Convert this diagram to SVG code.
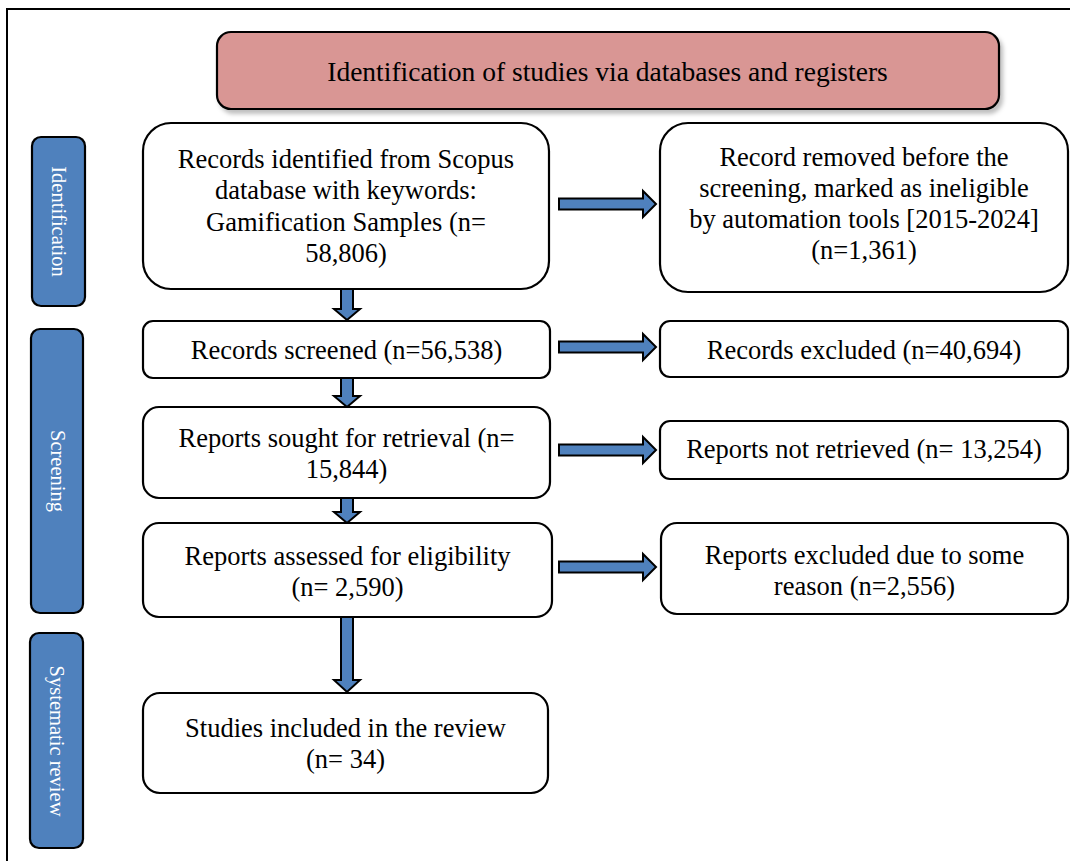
<svg xmlns="http://www.w3.org/2000/svg" width="1070" height="861" viewBox="0 0 1070 861">
<style>
.box{fill:#ffffff;stroke:#000000;stroke-width:2.2}
.side{fill:#4f81bd;stroke:#000000;stroke-width:2.2}
.arr{fill:#4f81bd;stroke:#000000;stroke-width:2;stroke-linejoin:miter}
.t{font-family:"Liberation Serif","Times New Roman",serif;font-size:26.5px;fill:#000000;text-anchor:middle}
.h{font-family:"Liberation Serif","Times New Roman",serif;font-size:27.5px;fill:#000000;text-anchor:middle}
.s{font-family:"Liberation Serif","Times New Roman",serif;font-size:20.5px;fill:#ffffff;text-anchor:middle}
</style>
<defs>
<filter id="sh" x="-5%" y="-20%" width="115%" height="150%">
<feDropShadow dx="3" dy="4" stdDeviation="2" flood-color="#000000" flood-opacity="0.25"/>
</filter>
</defs>
<rect x="0" y="0" width="1070" height="861" fill="#ffffff"/>
<rect x="7" y="9" width="1090" height="880" fill="none" stroke="#000000" stroke-width="2"/>

<g id="header">
<rect x="217" y="32" width="782" height="77" rx="14" ry="14" fill="#d99694" stroke="#000000" stroke-width="2.2" filter="url(#sh)"/>
<text class="h" x="607.5" y="81">Identification of studies via databases and registers</text>
</g>

<g id="label-identification">
<rect class="side" x="32" y="137" width="53" height="169" rx="9" ry="9"/>
<text class="s" transform="translate(58.5,221.5) rotate(90)" y="7">Identification</text>
</g>
<g id="label-screening">
<rect class="side" x="31" y="329" width="52" height="284" rx="9" ry="9"/>
<text class="s" transform="translate(57.5,471) rotate(90)" y="7">Screening</text>
</g>
<g id="label-systematic">
<rect class="side" x="30" y="633" width="53" height="215" rx="9" ry="9"/>
<text class="s" transform="translate(56.5,741) rotate(90)" y="7">Systematic review</text>
</g>

<g id="connectors">
<polygon class="arr" points="341,289 353,289 353,309 360,309 347,320 334,309 341,309"/>
<polygon class="arr" points="341,378 353,378 353,396 360,396 347,407 334,396 341,396"/>
<polygon class="arr" points="341,498 353,498 353,512 360,512 347,523 334,512 341,512"/>
<polygon class="arr" points="341,617 353,617 353,680 360,680 347,692 334,680 341,680"/>
<polygon class="arr" points="559,198.5 643,198.5 643,191 656,204 643,217 643,209.5 559,209.5"/>
<polygon class="arr" points="559,341.5 643,341.5 643,334 656,347 643,360 643,352.5 559,352.5"/>
<polygon class="arr" points="559,444.5 643,444.5 643,437 656,450 643,463 643,455.5 559,455.5"/>
<polygon class="arr" points="559,561.5 643,561.5 643,554 656,567 643,580 643,572.5 559,572.5"/>
</g>

<g id="records-identified">
<rect class="box" x="143" y="123" width="406" height="166" rx="28" ry="28"/>
<text class="t" x="346" y="168">Records identified from Scopus</text>
<text class="t" x="346" y="199">database with keywords:</text>
<text class="t" x="346" y="231">Gamification Samples (n=</text>
<text class="t" x="346" y="262">58,806)</text>
</g>

<g id="record-removed">
<rect class="box" x="660" y="123" width="408" height="169" rx="28" ry="28"/>
<text class="t" x="864" y="166">Record removed before the</text>
<text class="t" x="864" y="197">screening, marked as ineligible</text>
<text class="t" x="864" y="228">by automation tools [2015-2024]</text>
<text class="t" x="864" y="259">(n=1,361)</text>
</g>

<g id="records-screened">
<rect class="box" x="143" y="321" width="407" height="57" rx="10" ry="10"/>
<text class="t" x="346.5" y="359">Records screened (n=56,538)</text>
</g>

<g id="records-excluded">
<rect class="box" x="660" y="321" width="408" height="56" rx="10" ry="10"/>
<text class="t" x="864" y="359">Records excluded (n=40,694)</text>
</g>

<g id="reports-sought">
<rect class="box" x="143" y="407" width="407" height="91" rx="16" ry="16"/>
<text class="t" x="346.5" y="447">Reports sought for retrieval (n=</text>
<text class="t" x="346.5" y="478">15,844)</text>
</g>

<g id="reports-not-retrieved">
<rect class="box" x="660" y="421" width="408" height="58" rx="10" ry="10"/>
<text class="t" x="864" y="458">Reports not retrieved (n= 13,254)</text>
</g>

<g id="reports-assessed">
<rect class="box" x="143" y="523" width="409" height="94" rx="16" ry="16"/>
<text class="t" x="347.5" y="565">Reports assessed for eligibility</text>
<text class="t" x="347.5" y="596">(n= 2,590)</text>
</g>

<g id="reports-excluded">
<rect class="box" x="661" y="523" width="407" height="91" rx="16" ry="16"/>
<text class="t" x="864.5" y="564">Reports excluded due to some</text>
<text class="t" x="864.5" y="595">reason (n=2,556)</text>
</g>

<g id="studies-included">
<rect class="box" x="143" y="693" width="405" height="100" rx="17" ry="17"/>
<text class="t" x="345.5" y="737">Studies included in the review</text>
<text class="t" x="345.5" y="768">(n= 34)</text>
</g>
</svg>
